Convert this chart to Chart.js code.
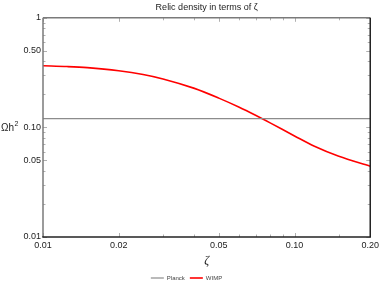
<!DOCTYPE html>
<html>
<head>
<meta charset="utf-8">
<script src="https://cdn.jsdelivr.net/npm/chart.js@4/dist/chart.umd.min.js"></script>
<style>
  html, body { margin: 0; padding: 0; background: #fff; }
  #wrap { width: 382px; height: 286px; }
</style>
</head>
<body>
<div id="wrap"><canvas id="myChart" width="382" height="286"></canvas></div>
<script>
// values
let zeta = [0.01, 0.0125, 0.015, 0.02, 0.025, 0.03, 0.04, 0.05, 0.06, 0.07, 0.08, 0.10, 0.12, 0.15, 0.20];
let wimp = [0.365, 0.359, 0.351, 0.329, 0.304, 0.277, 0.227, 0.185, 0.1535, 0.129, 0.110, 0.0836, 0.0673, 0.0545, 0.0443];
let planck_value = 0.12;

let x_ticks = [0.01, 0.02, 0.05, 0.1, 0.2];
let x_labels = ['0.01', '0.02', '0.05', '0.10', '0.20'];
let y_ticks = [0.01, 0.05, 0.1, 0.5, 1];
let y_labels = ['0.01', '0.05', '0.10', '0.50', '1'];
let x_minor = [0.03, 0.04, 0.06, 0.07, 0.08, 0.09, 0.15];
let y_minor = [0.02, 0.03, 0.04, 0.06, 0.07, 0.08, 0.09, 0.2, 0.3, 0.4, 0.6, 0.7, 0.8, 0.9];

let sans = 'Liberation Sans, Arial, sans-serif';

// frame + inward ticks, Mathematica style
let framePlugin = {
    id: 'frame',
    afterDatasetsDraw(chart) {
        let ctx = chart.ctx;
        let a = chart.chartArea;
        let sx = chart.scales.x, sy = chart.scales.y;
        ctx.save();
        ctx.strokeStyle = '#b0b0b0';
        ctx.lineWidth = 1;
        let tick = function (x1, y1, x2, y2) {
            ctx.beginPath(); ctx.moveTo(x1, y1); ctx.lineTo(x2, y2); ctx.stroke();
        };
        x_ticks.forEach(v => { let p = Math.round(sx.getPixelForValue(v)) + 0.5; tick(p, a.bottom, p, a.bottom - 4); tick(p, a.top, p, a.top + 4); });
        x_minor.forEach(v => { let p = Math.round(sx.getPixelForValue(v)) + 0.5; tick(p, a.bottom, p, a.bottom - 2.5); tick(p, a.top, p, a.top + 2.5); });
        y_ticks.forEach(v => { let p = Math.round(sy.getPixelForValue(v)) + 0.5; tick(a.left, p, a.left + 4, p); tick(a.right, p, a.right - 4, p); });
        y_minor.forEach(v => { let p = Math.round(sy.getPixelForValue(v)) + 0.5; tick(a.left, p, a.left + 2.5, p); tick(a.right, p, a.right - 2.5, p); });

        ctx.lineWidth = 1.5;
        ctx.strokeStyle = '#7a7a7a';
        tick(a.left, a.top, a.right, a.top);
        tick(a.left, a.top, a.left, a.bottom);
        ctx.strokeStyle = '#222';
        tick(a.left - 0.75, a.bottom, a.right + 0.75, a.bottom);
        tick(a.right, a.top, a.right, a.bottom);

        // y label, not rotated
        ctx.fillStyle = '#222';
        ctx.font = '10px ' + sans;
        ctx.textAlign = 'left';
        ctx.textBaseline = 'middle';
        ctx.fillText('\u03A9h', 1, 128);
        let w = ctx.measureText('\u03A9h').width;
        ctx.font = '7px ' + sans;
        ctx.fillText('2', 1 + w + 0.5, 124);
        ctx.restore();
    }
};

let mychart = new Chart(document.getElementById('myChart').getContext('2d'), {
    type: 'line',
    data: {
        datasets: [{
            label: 'Planck',
            data: [{ x: zeta[0], y: planck_value }, { x: zeta[zeta.length - 1], y: planck_value }],
            borderColor: '#8c8c8c',
            backgroundColor: '#8c8c8c',
            borderWidth: 1.2,
            pointRadius: 0
        }, {
            label: 'WIMP',
            data: zeta.map((z, i) => ({ x: z, y: wimp[i] })),
            borderColor: '#ff0000',
            backgroundColor: '#ff0000',
            borderWidth: 1.6,
            pointRadius: 0,
            cubicInterpolationMode: 'monotone'
        }]
    },
    options: {
        responsive: false,
        animation: false,
        events: [],
        layout: { padding: { left: 0, right: 9, top: 0, bottom: -5 } },
        plugins: {
            title: {
                display: true,
                text: 'Relic density in terms of \u03B6',
                fullSize: false,
                color: '#222',
                font: { family: sans, size: 9, weight: 'normal' },
                padding: { top: 2, bottom: 5 }
            },
            legend: {
                position: 'bottom',
                labels: {
                    usePointStyle: true,
                    pointStyle: 'line',
                    pointStyleWidth: 13,
                    boxHeight: 6,
                    padding: 5,
                    color: '#444',
                    font: { family: sans, size: 6 }
                }
            },
            tooltip: { enabled: false }
        },
        scales: {
            x: {
                type: 'logarithmic',
                min: 0.01,
                max: 0.2,
                afterBuildTicks: s => { s.ticks = x_ticks.map(v => ({ value: v })); },
                afterFit: s => { s.height = 33; },
                grid: { display: false, drawTicks: false },
                border: { display: false },
                ticks: {
                    autoSkip: false,
                    maxRotation: 0,
                    padding: 3,
                    color: '#222',
                    font: { family: sans, size: 9 },
                    callback: (v, i) => x_labels[i]
                },
                title: {
                    display: true,
                    text: '\u03B6',
                    color: '#222',
                    font: { family: 'Liberation Serif, serif', size: 12, style: 'italic' },
                    padding: { top: 2, bottom: 2 }
                }
            },
            y: {
                type: 'logarithmic',
                min: 0.01,
                max: 1,
                afterBuildTicks: s => { s.ticks = y_ticks.map(v => ({ value: v })); },
                afterFit: s => { s.width = 43; },
                grid: { display: false, drawTicks: false },
                border: { display: false },
                ticks: {
                    autoSkip: false,
                    padding: 2,
                    color: '#222',
                    font: { family: sans, size: 9 },
                    callback: (v, i) => y_labels[i]
                }
            }
        }
    },
    plugins: [framePlugin]
});
</script>
</body>
</html>
